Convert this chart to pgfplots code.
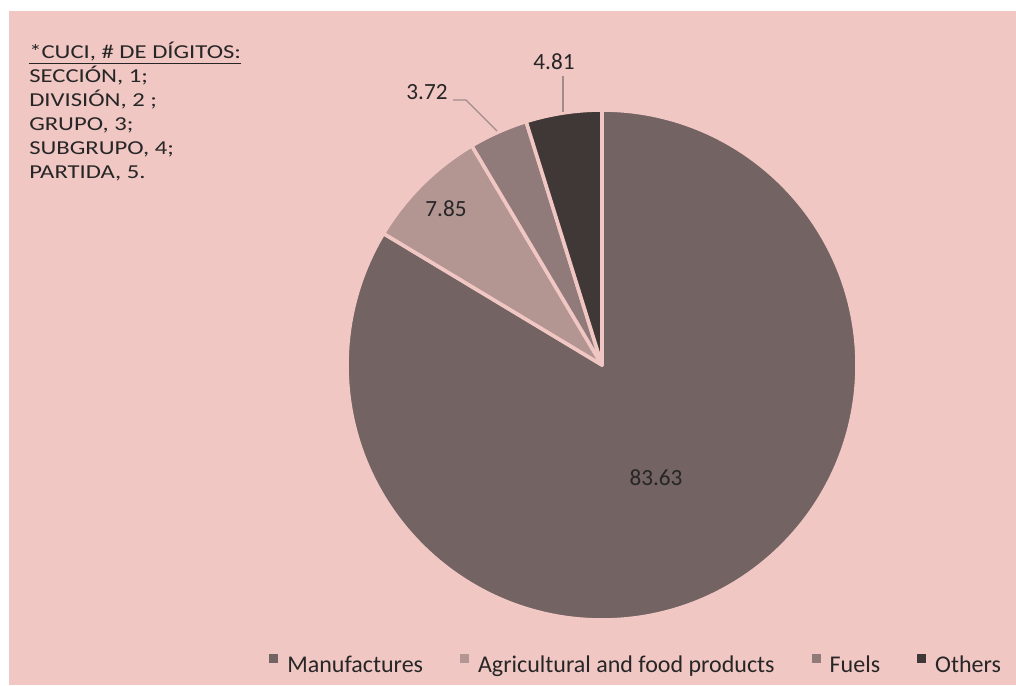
\documentclass[border=0pt]{standalone}
\usepackage{pgfplots}
\usepackage{pgfplotstable}
\pgfplotsset{compat=1.18}
\usepackage{fontspec}
\setmainfont{Carlito}
\definecolor{bg}{HTML}{F1C7C4}
\definecolor{manuf}{HTML}{736362}
\definecolor{agri}{HTML}{B39592}
\definecolor{fuel}{HTML}{917B7A}
\definecolor{oth}{HTML}{403737}
\definecolor{txt}{HTML}{262626}
\definecolor{lead}{HTML}{A08C8B}

\pgfplotstableread{
name value
Manufactures 83.63
Agricultural 7.85
Fuels 3.72
Others 4.81
}\piedata

\begin{document}
\begin{tikzpicture}
\pgfplotstablegetelem{0}{value}\of\piedata \let\vA\pgfplotsretval
\pgfplotstablegetelem{1}{value}\of\piedata \let\vB\pgfplotsretval
\pgfplotstablegetelem{2}{value}\of\piedata \let\vC\pgfplotsretval
\pgfplotstablegetelem{3}{value}\of\piedata \let\vD\pgfplotsretval
\pgfmathsetmacro\tot{\vA+\vB+\vC+\vD}
\pgfmathsetmacro\aA{90}
\pgfmathsetmacro\aB{\aA-360*(\vA/\tot)}
\pgfmathsetmacro\aC{\aB-360*(\vB/\tot)}
\pgfmathsetmacro\aD{\aC-360*(\vC/\tot)}
\pgfmathsetmacro\aE{\aD-360*(\vD/\tot)}
\def\R{191.25pt}
\begin{axis}[x=0.75pt,y=0.75pt,xmin=0,xmax=1016,ymin=0,ymax=685,
  hide axis,clip=false,
  legend columns=4,
  legend style={draw=none, fill=none, inner sep=0pt, outer sep=0pt,
    at={(axis cs:1001,21)}, anchor=east,
    font=\fontsize{18}{21}\selectfont, text=txt,
    column sep=6.75pt,
    /tikz/every even column/.append style={column sep=27.75pt},
    nodes={inner sep=0pt}},
  legend image code/.code={\fill[#1, draw=none] (0pt,1.5pt) rectangle (6.75pt,8.25pt);},
]
\fill[white] (axis cs:0,0) rectangle (axis cs:1016,685);
\fill[bg] (axis cs:9,0) rectangle (axis cs:1016,674);

\filldraw[fill=manuf, draw=bg, line width=2.7pt, line join=round]
  (axis cs:602,320) -- ++(\aA:\R) arc[start angle=\aA, end angle=\aB, radius=\R] -- cycle;
\filldraw[fill=agri, draw=bg, line width=2.7pt, line join=round]
  (axis cs:602,320) -- ++(\aB:\R) arc[start angle=\aB, end angle=\aC, radius=\R] -- cycle;
\filldraw[fill=fuel, draw=bg, line width=2.7pt, line join=round]
  (axis cs:602,320) -- ++(\aC:\R) arc[start angle=\aC, end angle=\aD, radius=\R] -- cycle;
\filldraw[fill=oth, draw=bg, line width=2.7pt, line join=round]
  (axis cs:602,320) -- ++(\aD:\R) arc[start angle=\aD, end angle=\aE, radius=\R] -- cycle;

\begin{scope}[every node/.style={font=\fontsize{17.4}{21}\selectfont, text=txt, inner sep=0pt, anchor=base}]
\node at (axis cs:656,199) {\vA};
\node at (axis cs:446,468) {\vB};
\node at (axis cs:427,585) {\vC};
\node at (axis cs:554,615) {\vD};
\end{scope}
\draw[lead, line width=1pt] (axis cs:453,585) -- (axis cs:466,585) -- (axis cs:497,554);
\draw[lead, line width=1pt] (axis cs:563,609) -- (axis cs:563,573);

\begin{scope}[every node/.style={font=\fontsize{14.8}{18}\selectfont, text=txt, inner sep=0pt, anchor=base west}]
\node at (axis cs:29,626) {\scalebox{1.25}[1]{\underline{*CUCI, \# DE DÍGITOS:}}};
\node at (axis cs:29,602) {\scalebox{1.25}[1]{SECCIÓN, 1;}};
\node at (axis cs:29,578) {\scalebox{1.25}[1]{DIVISIÓN, 2 ;}};
\node at (axis cs:29,554) {\scalebox{1.25}[1]{GRUPO, 3;}};
\node at (axis cs:29,530) {\scalebox{1.25}[1]{SUBGRUPO, 4;}};
\node at (axis cs:29,506) {\scalebox{1.25}[1]{PARTIDA, 5.}};
\end{scope}

\addlegendimage{fill=manuf}\addlegendentry{Manufactures}
\addlegendimage{fill=agri}\addlegendentry{Agricultural and food products}
\addlegendimage{fill=fuel}\addlegendentry{Fuels}
\addlegendimage{fill=oth}\addlegendentry{Others}
\end{axis}
\end{tikzpicture}
\end{document}
